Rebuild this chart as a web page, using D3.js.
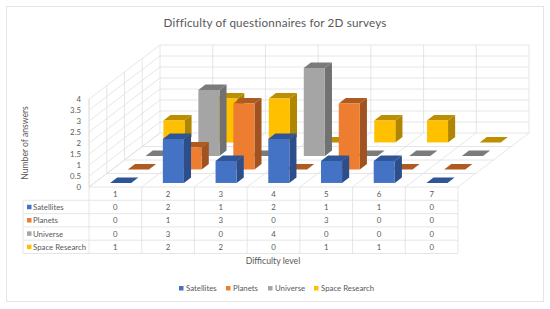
<!DOCTYPE html>
<html>
<head>
<meta charset="utf-8">
<script src="https://cdn.jsdelivr.net/npm/d3@7"></script>
<style>
html, body { margin: 0; padding: 0; background: #fff; }
svg { display: block; }
text { font-family: Lato, sans-serif; fill: #595959; }
</style>
</head>
<body>
<svg id="chart" width="550" height="309"></svg>
<script>
var levels = ["1", "2", "3", "4", "5", "6", "7"];
var seriesNames = ["Satellites", "Planets", "Universe", "Space Research"];
var satellites = [0, 2, 1, 2, 1, 1, 0];
var planets = [0, 1, 3, 0, 3, 0, 0];
var universe = [0, 3, 0, 4, 0, 0, 0];
var spaceResearch = [1, 2, 2, 0, 1, 1, 0];
var yTicks = [0, 0.5, 1, 1.5, 2, 2.5, 3, 3.5, 4];
var frontColors = ["#4472c4", "#ed7d31", "#a5a5a5", "#ffc000"];
var topColors = ["#2f5597", "#ae5a21", "#7b7b7b", "#bc8e00"];
var sideColors = ["#2c4f8c", "#a05220", "#717171", "#b08500"];

var seriesValues = [satellites, planets, universe, spaceResearch];

var svg = d3.select("#chart");

// floor corners of the oblique box
var left = 89, right = 458, base = 187, top4 = 99;
var depthX = 71, depthY = -54;
var gridColor = "#e0e0e0";

var xScale = d3.scaleBand().domain(levels).range([left, right]);
var barX = d3.scaleBand().domain(levels).range([left, right]).paddingInner(0.6).paddingOuter(0.3);
var zScale = d3.scaleBand().domain(seriesNames).range([0, 1]);
var barZ = d3.scaleBand().domain(seriesNames).range([0, 1]).paddingInner(0.6).paddingOuter(0.3);
var yScale = d3.scaleLinear().domain([0, 4]).range([base, top4]);

// x in plot px, value, z in 0..1 from the front
function project(x, v, z) {
    return [x + z * depthX, yScale(v) + z * depthY];
}
var path = d3.line();

// card
svg.append("rect")
    .attr("x", 6.5).attr("y", 6.5)
    .attr("width", 537).attr("height", 295)
    .attr("fill", "#fff").attr("stroke", "#e4e4e4");

svg.append("text")
    .attr("x", 275).attr("y", 27)
    .attr("text-anchor", "middle")
    .attr("font-size", 11.7)
    .style("letter-spacing", "0.15px")
    .text("Difficulty of questionnaires for 2D surveys");

// walls and floor grid
var grid = svg.append("g")
    .attr("fill", "none")
    .attr("stroke", gridColor)
    .attr("stroke-width", 0.8);

yTicks.forEach(function (t) {
    grid.append("path").attr("d", path([project(left, t, 0), project(left, t, 1), project(right, t, 1)]));
});

levels.forEach(function (d) {
    grid.append("path").attr("d", path([project(xScale(d), 0, 0), project(xScale(d), 0, 1), project(xScale(d), 4, 1)]));
});
grid.append("path").attr("d", path([project(right, 0, 0), project(right, 0, 1), project(right, 4, 1)]));

zScale.domain().forEach(function (d) {
    var z = zScale(d);
    grid.append("path").attr("d", path([project(left, 4, z), project(left, 0, z), project(right, 0, z)]));
});
grid.append("path").attr("d", path([project(left, 0, 0), project(left, 4, 0)]));

// bars, back series first
var bars = svg.append("g");
d3.range(seriesNames.length - 1, -1, -1).forEach(function (s) {
    var name = seriesNames[s];
    var z0 = barZ(name), z1 = z0 + barZ.bandwidth();
    seriesValues[s].forEach(function (v, i) {
        var x0 = barX(levels[i]), x1 = x0 + barX.bandwidth();
        var g = bars.append("g");
        g.append("path").attr("fill", sideColors[s])
            .attr("d", path([project(x1, 0, z0), project(x1, 0, z1), project(x1, v, z1), project(x1, v, z0)]) + "Z");
        g.append("path").attr("fill", topColors[s])
            .attr("d", path([project(x0, v, z0), project(x1, v, z0), project(x1, v, z1), project(x0, v, z1)]) + "Z");
        if (v > 0) {
            g.append("path").attr("fill", frontColors[s])
                .attr("d", path([project(x0, 0, z0), project(x1, 0, z0), project(x1, v, z0), project(x0, v, z0)]) + "Z");
        }
    });
});

// y axis
var yAxis = d3.axisLeft(yScale).tickValues(yTicks).tickSize(0).tickPadding(3).tickFormat(d3.format("~g"));
var yG = svg.append("g").attr("transform", "translate(" + (left - 5) + ",0)").call(yAxis);
yG.select(".domain").remove();
yG.selectAll("text").attr("font-size", 7.8).style("font-family", "Lato, sans-serif").style("fill", "#595959");

svg.append("text")
    .attr("transform", "translate(28,143) rotate(-90)")
    .attr("text-anchor", "middle")
    .attr("font-size", 8.6)
    .text("Number of answers");

// data table
var tableLeft = 23;
var rowScale = d3.scaleBand().domain(["head"].concat(seriesNames)).range([187, 253.5]);
var table = svg.append("g");

rowScale.domain().forEach(function (r) {
    var y = rowScale(r) + rowScale.bandwidth();
    table.append("line")
        .attr("x1", tableLeft).attr("x2", right)
        .attr("y1", y).attr("y2", y)
        .attr("stroke", gridColor).attr("stroke-width", 0.8);
});
levels.concat(["end"]).forEach(function (d, i) {
    var x = i < levels.length ? xScale(d) : right;
    table.append("line")
        .attr("x1", x).attr("x2", x)
        .attr("y1", 187).attr("y2", 253.5)
        .attr("stroke", gridColor).attr("stroke-width", 0.8);
});
table.append("line")
    .attr("x1", tableLeft).attr("x2", tableLeft)
    .attr("y1", rowScale("Satellites")).attr("y2", 253.5)
    .attr("stroke", gridColor).attr("stroke-width", 0.8);

levels.forEach(function (d) {
    table.append("text")
        .attr("x", xScale(d) + xScale.bandwidth() / 2)
        .attr("y", rowScale("head") + rowScale.bandwidth() / 2 + 3)
        .attr("text-anchor", "middle").attr("font-size", 7.8)
        .text(d);
});
seriesNames.forEach(function (name, s) {
    var cy = rowScale(name) + rowScale.bandwidth() / 2;
    table.append("rect")
        .attr("x", 27).attr("y", cy - 2.2)
        .attr("width", 4.5).attr("height", 4.5)
        .attr("fill", frontColors[s]);
    table.append("text")
        .attr("x", 33).attr("y", cy + 3)
        .attr("font-size", 7.8)
        .text(name);
    seriesValues[s].forEach(function (v, i) {
        table.append("text")
            .attr("x", xScale(levels[i]) + xScale.bandwidth() / 2)
            .attr("y", cy + 3)
            .attr("text-anchor", "middle").attr("font-size", 7.8)
            .text(v);
    });
});

svg.append("text")
    .attr("x", 273).attr("y", 264)
    .attr("text-anchor", "middle").attr("font-size", 8.7)
    .text("Difficulty level");

// legend
var legendX = [179, 226, 268, 314];
seriesNames.forEach(function (name, s) {
    svg.append("rect")
        .attr("x", legendX[s]).attr("y", 286)
        .attr("width", 4.5).attr("height", 4.5)
        .attr("fill", frontColors[s]);
    svg.append("text")
        .attr("x", legendX[s] + 7).attr("y", 291)
        .attr("font-size", 7.8)
        .text(name);
});
</script>
</body>
</html>
